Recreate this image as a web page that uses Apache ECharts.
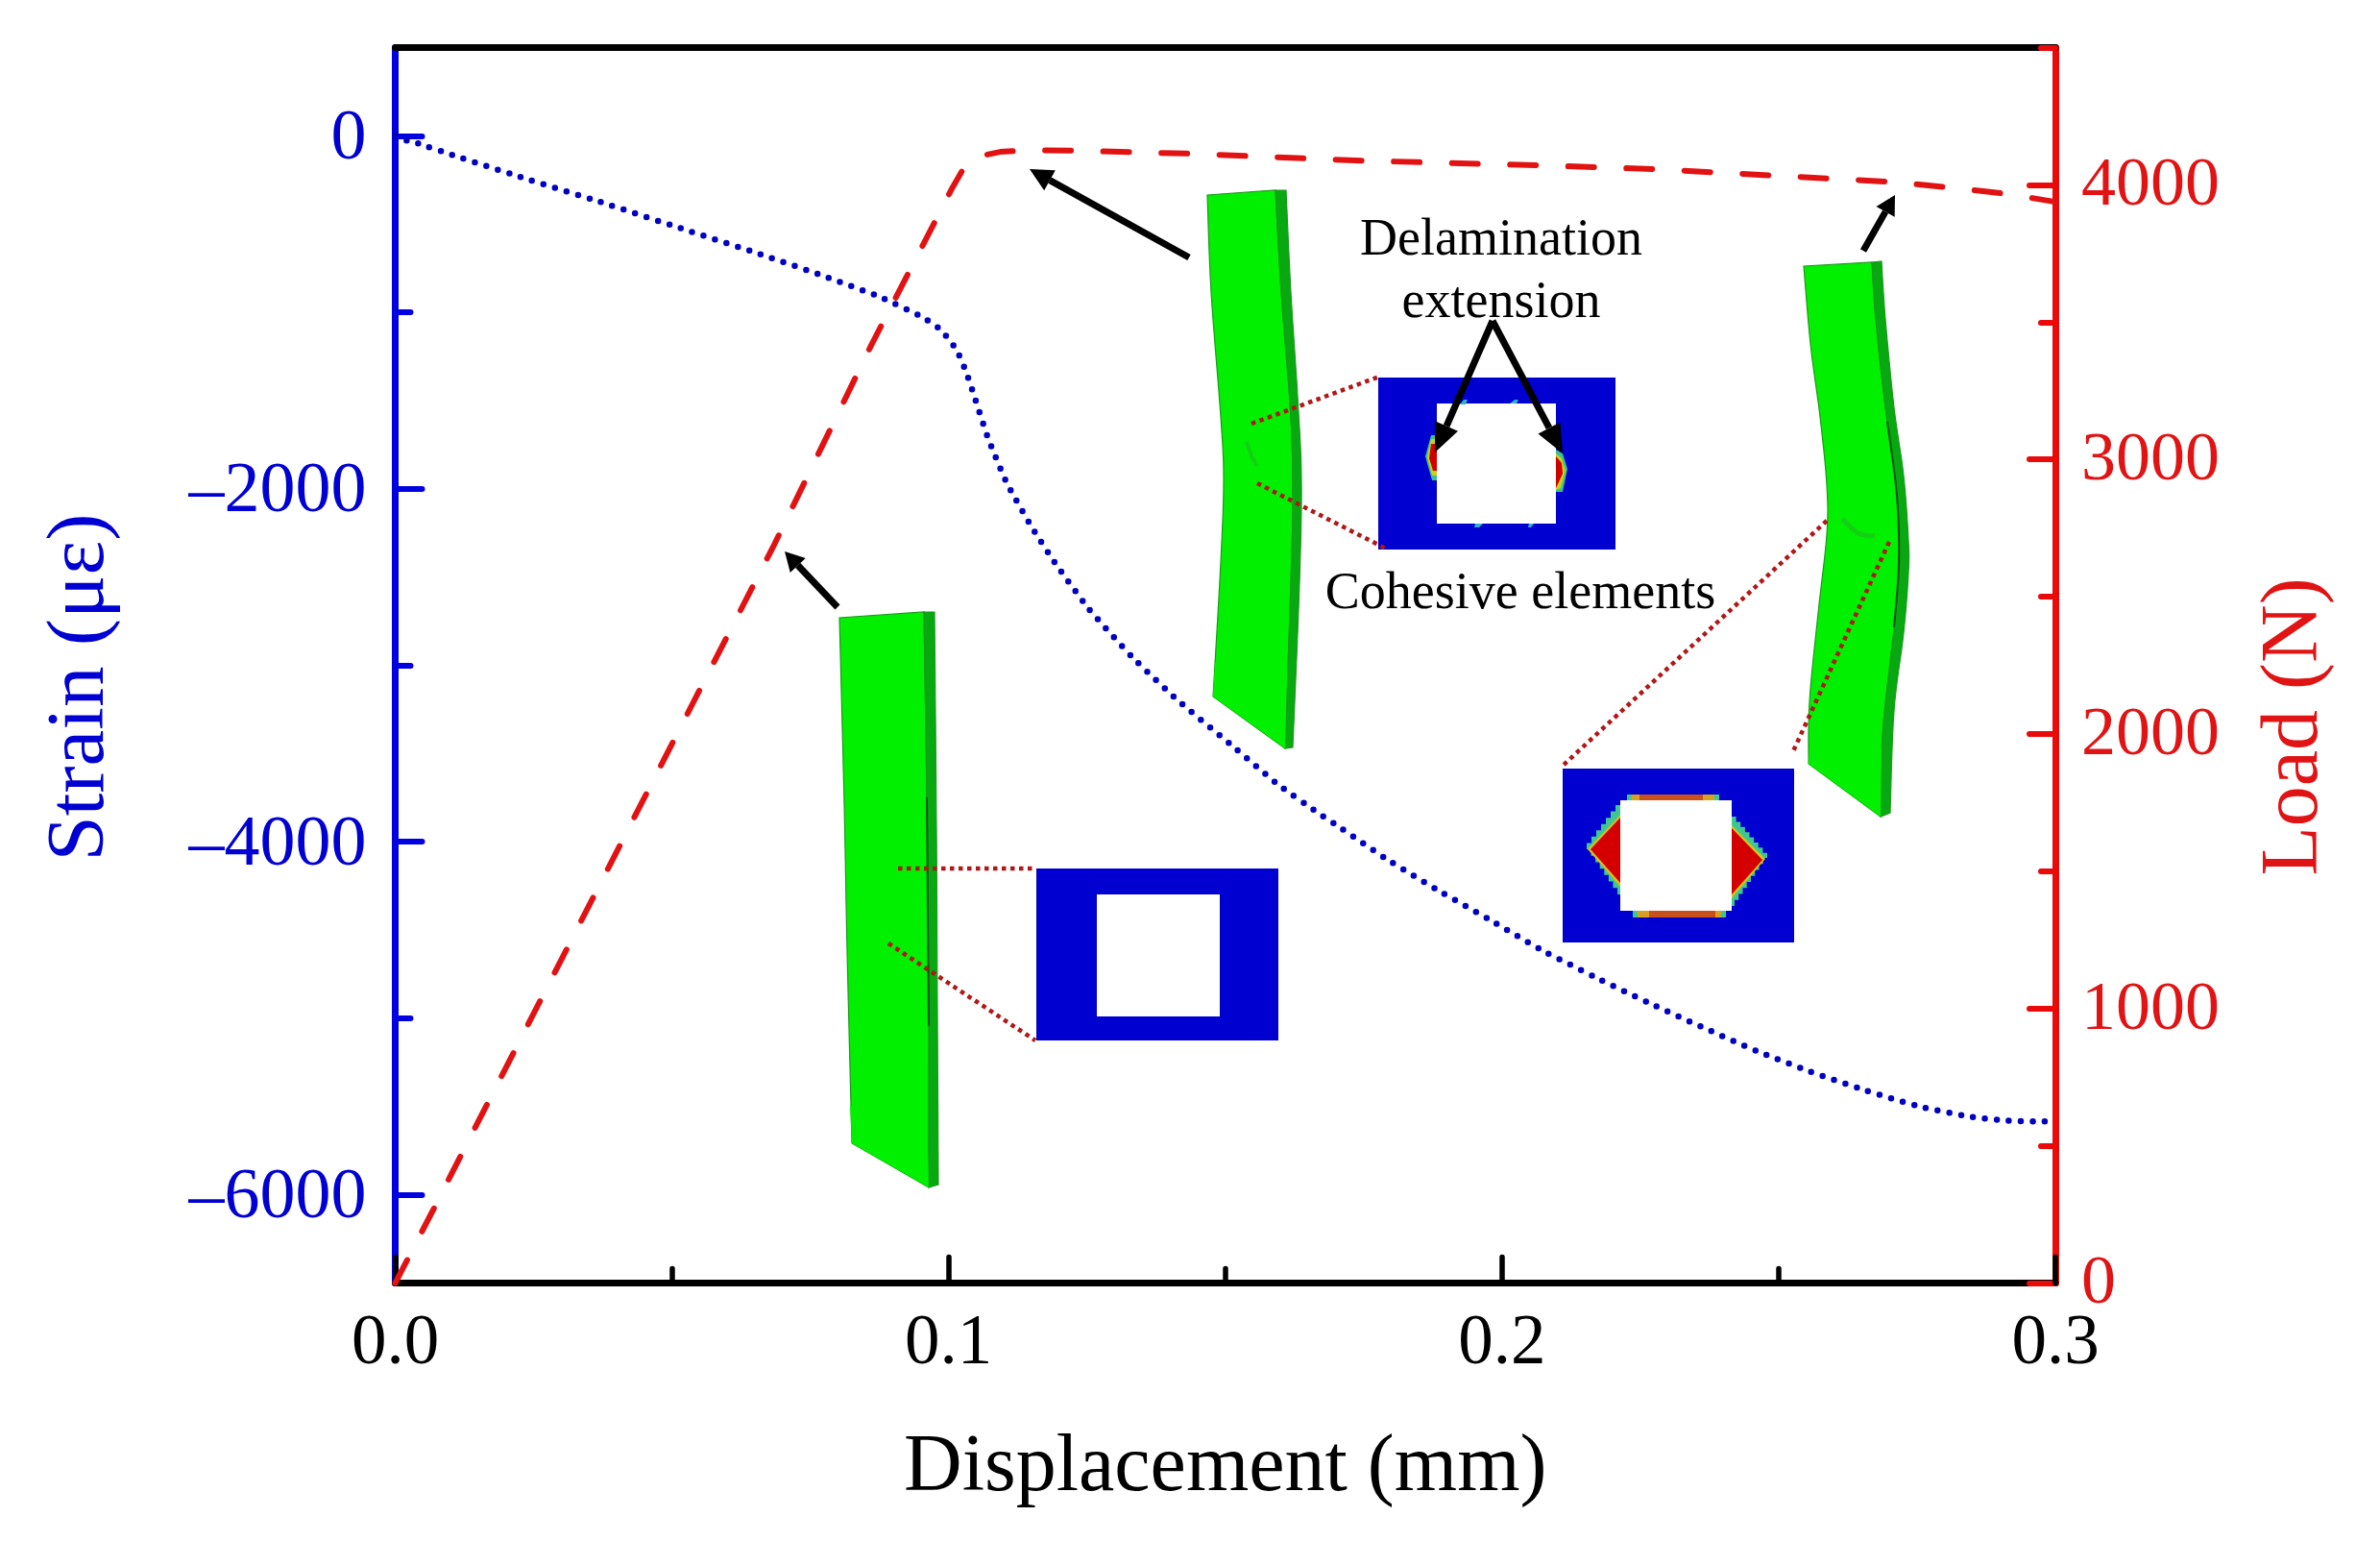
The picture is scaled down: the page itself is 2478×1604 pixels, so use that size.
<!DOCTYPE html>
<html><head><meta charset="utf-8">
<style>html,body{margin:0;padding:0;background:#fff}#c{width:2478px;height:1604px}</style>
<script src="https://cdn.jsdelivr.net/npm/echarts@6/dist/echarts.min.js"></script>
</head><body><div id="c"></div>
<script>
// ---- data ----
const loadX = [0,0.0072,0.012,0.0685,0.086,0.096,0.1007,0.1031,0.1055,0.1093,0.1138,0.122,0.143,0.1746,0.2067,0.2277,0.2703,0.281,0.2912,0.3];
const loadY = [0,280,470,2690,3415,3806,3990,4074,4104,4120,4126,4125,4114,4088,4071,4057,4011,3990,3967,3938];
const strainX = [0,0.0023,0.0043,0.0103,0.0225,0.0369,0.0511,0.0653,0.0774,0.0875,0.0952,0.0986,0.1014,0.1031,0.1045,0.1071,0.1104,0.1146,0.1192,0.1253,0.1331,0.1414,0.1513,0.1594,0.1666,0.1701,0.179,0.1883,0.1975,0.2069,0.2166,0.2262,0.2359,0.2459,0.2557,0.2658,0.2761,0.2844,0.2908,0.2971,0.3];
const strainY = [0,-29,-45,-109,-232,-373,-519,-664,-794,-912,-1026,-1099,-1211,-1333,-1462,-1711,-1960,-2195,-2419,-2679,-2951,-3198,-3457,-3672,-3833,-3905,-4095,-4272,-4436,-4609,-4763,-4908,-5046,-5184,-5302,-5410,-5505,-5556,-5579,-5585,-5580];
const strainTicks = [0,-2000,-4000,-6000];
const strainMinor = [-1000,-3000,-5000];
const loadTicks = [0,1000,2000,3000,4000];
const loadMinor = [500,1500,2500,3500,4500];
const xLabel = 'Displacement (mm)', strainLabel = 'Strain (με)', loadLabel = 'Load (N)';

const SERIF = '"Liberation Serif","Times New Roman",serif';
const BLUE='#0000E0', BLUET='#0000D2', RED='#EA0A0A', REDT='#E01414', DOT='#0000C0';

// ---- illustrations (finite-element pictures pasted in the figure) ----
const GREEN='#00F000', SIDE='#08A810', EDGE='#1B9A1B', INSET='#0000D0', LEAD='#B01818';
function poly(points, fill, stroke, lw){return {type:'polygon',z:3,shape:{points},style:{fill,stroke:stroke||null,lineWidth:lw||0}};}
function rect(x1,y1,x2,y2,fill){return {type:'rect',z:3,shape:{x:x1,y:y1,width:x2-x1,height:y2-y1},style:{fill}};}
function pline(points,stroke,lw,dash){return {type:'polyline',z:4,shape:{points},style:{stroke,fill:null,lineWidth:lw,lineDash:dash||null}};}
function lead(a,b){return pline([a,b],LEAD,4.5,[4.5,4.5]);}
function arrow(t,h,lw,hl,hw){
  const dx=h[0]-t[0],dy=h[1]-t[1],n=Math.hypot(dx,dy),ux=dx/n,uy=dy/n;
  const bx=h[0]-ux*hl,by=h[1]-uy*hl;
  return [pline([t,[bx,by]],'#000',lw),
    {type:'polygon',z:5,shape:{points:[h,[bx-uy*hw,by+ux*hw],[bx+uy*hw,by-ux*hw]]},style:{fill:'#000'}}];
}
function note(text,x,y,size){return {type:'text',z:6,style:{text,x,y,fill:'#000',fontFamily:SERIF,fontSize:size,textAlign:'center',textVerticalAlign:'middle'}};}
// smooth edge of a bent plate through hand-read outline points
function curve(p){
  const out=[];
  for(let i=0;i<p.length-1;i++){
    const a=p[Math.max(i-1,0)],b=p[i],c=p[i+1],d=p[Math.min(i+2,p.length-1)];
    for(let k=0;k<8;k++){const t=k/8,t2=t*t,t3=t2*t;
      out.push([0,1].map(j=>0.5*(2*b[j]+(c[j]-a[j])*t+(2*a[j]-5*b[j]+4*c[j]-d[j])*t2+(3*b[j]-a[j]-3*c[j]+d[j])*t3)));}
  }
  out.push(p[p.length-1]);
  return out;
}
function plate(left,inner,outer){
  const inn=curve(inner), out=curve(outer);
  return [
    poly(curve(left).reverse().concat(inn),GREEN,EDGE,1.2),
    poly(out.concat(inn.slice().reverse()),SIDE,EDGE,1.2)
  ];
}
// stair-stepped boundary of a cohesive damage zone
function stairs(a,b,n){
  const pts=[a];
  for(let i=1;i<=n;i++){
    const x=a[0]+(b[0]-a[0])*i/n,y=a[1]+(b[1]-a[1])*i/n,py=a[1]+(b[1]-a[1])*(i-1)/n;
    pts.push([x,py],[x,y]);
  }
  return pts;
}

const els = [];
// plate 1
els.push(...plate(
  [[874,643],[879,838],[882,990],[887,1190]],
  [[962,637],[965,830],[967,1000],[967,1236]],
  [[973,637],[975,860],[976,1050],[977,1233]]));
els.push(poly([[887,1190],[967,1236],[966,1200],[885,1150]],GREEN));
els.push(pline([[965,830],[967,1068]],'#06540C',2));
// plate 2
els.push(...plate(
  [[1257,203],[1261,304],[1271,434],[1274,499],[1271,585],[1263,725]],
  [[1328,198],[1334,304],[1344,434],[1346,520],[1344,607],[1338,779]],
  [[1339,198],[1344,304],[1351,412],[1355,499],[1353,607],[1346,778]]));
els.push(poly([[1263,725],[1338,779],[1340,700],[1265,690]],GREEN));
els.push(pline([[1298,460],[1303,475],[1309,485]],'#14D014',4));
// plate 3
els.push(...plate(
  [[1878,277],[1885,358],[1895,434],[1902,505],[1902,556],[1893,638],[1884,730],[1883,795]],
  [[1949,273],[1953,332],[1963,424],[1975,505],[1978,562],[1977,613],[1968,689],[1960,766],[1958,850]],
  [[1959,272],[1963,332],[1972,424],[1982,495],[1987,562],[1987,597],[1982,659],[1972,740],[1968,846]]));
els.push(poly([[1883,795],[1958,850],[1959,780],[1885,760]],GREEN));
els.push(pline(curve([[1965,439],[1975,516],[1977,587],[1972,653]]),'#06540C',2));
els.push(pline(curve([[1918,540],[1935,555],[1952,558]]),'#14D014',5));
// inset 1
els.push(rect(1079,904,1331,1083,INSET), rect(1142,931,1270,1058,'#fff'));
// inset 2
els.push(rect(1435,393,1682,572,INSET), rect(1496,420,1620,545,'#fff'));
els.push(poly([[1490,453],[1484,475],[1491,500],[1496,500],[1496,453]],'#3CC08C'));
els.push(poly([[1490,457],[1486,476],[1491,495],[1496,495],[1496,457]],'#C8D020'));
els.push(poly([[1490,462],[1488,477],[1492,490],[1496,490],[1496,462]],'#D00000'));
els.push(poly([[1620,468],[1627,472],[1632,488],[1627,512],[1620,512]],'#3CC08C'));
els.push(poly([[1620,472],[1626,477],[1630,490],[1625,508],[1620,510]],'#C8D020'));
els.push(poly([[1620,475],[1626,482],[1627,493],[1620,508]],'#D00000'));
els.push(poly([[1520,421],[1524,416],[1528,416],[1526,421]],'#30B0D0'), poly([[1572,420],[1577,416],[1581,416],[1579,420]],'#30B0D0'));
els.push(poly([[1536,545],[1544,545],[1540,549],[1535,549]],'#30B0D0'), poly([[1592,545],[1597,545],[1594,549],[1591,549]],'#30B0D0'));
// inset 3
els.push(rect(1627,800,1868,981,INSET));
els.push(poly(stairs([1687,838],[1652,884],7).concat(stairs([1652,884],[1684,931],7),[[1687,931]]),'#3CC890'));
els.push(poly([[1687,848],[1653,884],[1687,923]],'#D8C020'));
els.push(poly([[1687,851],[1656,884],[1687,919]],'#D40000'));
els.push(poly(stairs([1803,850],[1840,893],8).concat(stairs([1840,893],[1806,943],8),[[1803,943]]),'#3CC890'));
els.push(poly([[1803,859],[1838,894],[1803,935]],'#D8C020'));
els.push(poly([[1803,862],[1835,895],[1803,931]],'#D40000'));
els.push(rect(1694,827,1790,833,'#3CC890'), rect(1699,827,1785,833,'#D8A020'), rect(1707,827,1773,833,'#C8501A'));
els.push(rect(1700,948,1797,955,'#3CC890'), rect(1705,948,1792,955,'#D8A020'), rect(1717,948,1786,955,'#C8501A'));
els.push(rect(1687,833,1803,948,'#fff'));
// leader lines
els.push(lead([935,904],[1079,904]), lead([925,982],[1078,1083]));
els.push(lead([1303,441],[1436,392]), lead([1309,503],[1443,571]));
els.push(lead([1902,542],[1626,798]), lead([1967,564],[1867,782]));
// arrows
els.push(...arrow([872,632],[817,574],7,20,11));
els.push(...arrow([1238,268],[1072,176],7,24,12));
els.push(...arrow([1940,261],[1973,203],7,20,11));
els.push(...arrow([1554,334],[1494,471],7,30,13));
els.push(...arrow([1554,334],[1627,472],7,30,13));
// notes
els.push(note('Delamination',1563,251,54), note('extension',1563,316,54), note('Cohesive elements',1583,619,54));

const chart = echarts.init(document.getElementById('c'),null,{width:2478,height:1604});
const tickFmt = v => '{a|' + String(v).replace('-','–') + '}';
chart.setOption({
  animation:false,
  backgroundColor:'#fff',
  grid:{left:411.5,top:49.5,width:1728.5,height:1286,containLabel:false},
  xAxis:[
    {type:'value',position:'bottom',min:0,max:0.3,interval:0.1,splitLine:{show:false},
     name:xLabel,nameLocation:'middle',nameGap:151,
     nameTextStyle:{color:'#000',fontFamily:SERIF,fontSize:84},
     axisLine:{show:true,onZero:false,lineStyle:{color:'#000',width:7}},
     axisTick:{show:true,inside:true,length:27,lineStyle:{color:'#000',width:5.5,cap:'round'}},
     minorTick:{show:true,splitNumber:2,length:15,lineStyle:{color:'#000',width:5.5,cap:'round'}},
     minorSplitLine:{show:false},
     axisLabel:{color:'#000',fontFamily:SERIF,fontSize:73,margin:28,formatter:v=>v.toFixed(1),showMaxLabel:true,showMinLabel:true,hideOverlap:false}},
    {type:'value',position:'top',min:0,max:0.3,splitLine:{show:false},
     axisLine:{show:true,onZero:false,lineStyle:{color:'#000',width:7}},axisTick:{show:false},axisLabel:{show:false}}
  ],
  yAxis:[
    {type:'value',position:'left',min:-6500,max:500,splitLine:{show:false},
     name:strainLabel,nameLocation:'middle',nameGap:284,nameRotate:90,
     nameTextStyle:{color:BLUET,fontFamily:SERIF,fontSize:85,padding:[0,46,0,0]},
     axisLine:{show:true,onZero:false,lineStyle:{color:BLUE,width:7}},
     axisTick:{show:true,inside:true,length:28,customValues:strainTicks,lineStyle:{color:BLUE,width:6,cap:'round'}},
     axisLabel:{color:BLUET,fontFamily:SERIF,fontSize:74,margin:30,customValues:strainTicks,formatter:tickFmt,hideOverlap:false,
       rich:{a:{color:BLUET,fontFamily:SERIF,fontSize:74,padding:[8,0,0,0]}}}},
    {type:'value',position:'left',min:-6500,max:500,splitLine:{show:false},
     axisLine:{show:false,onZero:false},
     axisTick:{show:true,inside:true,length:16,customValues:strainMinor,lineStyle:{color:BLUE,width:6,cap:'round'}},
     axisLabel:{show:false}},
    {type:'value',position:'right',min:0,max:4500,splitLine:{show:false},
     name:loadLabel,nameLocation:'middle',nameGap:208,nameRotate:90,
     nameTextStyle:{color:REDT,fontFamily:SERIF,fontSize:84,padding:[0,128,0,0]},
     axisLine:{show:true,onZero:false,lineStyle:{color:RED,width:7}},
     axisTick:{show:true,inside:true,length:27,customValues:loadTicks,lineStyle:{color:RED,width:6,cap:'round'}},
     axisLabel:{color:REDT,fontFamily:SERIF,fontSize:72,margin:27,customValues:loadTicks,formatter:tickFmt,hideOverlap:false,
       rich:{a:{color:REDT,fontFamily:SERIF,fontSize:72,padding:[4,0,0,0]}}}},
    {type:'value',position:'right',min:0,max:4500,splitLine:{show:false},
     axisLine:{show:false,onZero:false},
     axisTick:{show:true,inside:true,length:15,customValues:loadMinor,lineStyle:{color:RED,width:6,cap:'round'}},
     axisLabel:{show:false}}
  ],
  series:[
    {name:'Strain',type:'line',xAxisIndex:0,yAxisIndex:0,showSymbol:false,smooth:0.15,clip:false,z:4,
     data:strainX.map((x,i)=>[x,strainY[i]]),
     lineStyle:{color:DOT,width:6.5,type:[0,12.5],cap:'round'}},
    {name:'Load',type:'line',xAxisIndex:0,yAxisIndex:2,showSymbol:false,clip:false,z:4,
     data:loadX.map((x,i)=>[x,loadY[i]]),
     lineStyle:{color:'#E21212',width:6,type:[27,33.55],cap:'round'}}
  ],
  graphic:{elements:els}
});
</script></body></html>
